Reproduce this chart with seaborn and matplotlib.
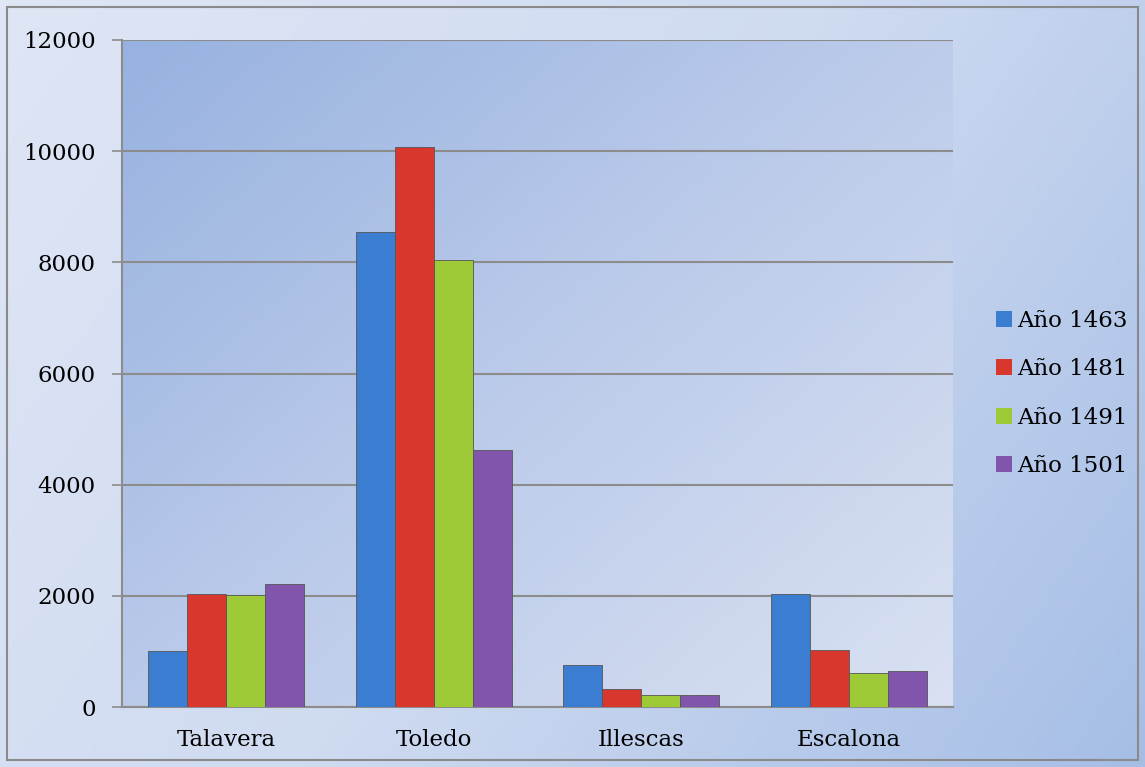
import numpy as np
import pandas as pd
import matplotlib
matplotlib.use("Agg")
import matplotlib.pyplot as plt
import seaborn as sns
from matplotlib.colors import LinearSegmentedColormap
from matplotlib.patches import Rectangle

categories = ["Talavera", "Toledo", "Illescas", "Escalona"]
series = ["Año 1463", "Año 1481", "Año 1491", "Año 1501"]
v1463 = [1000, 8550, 750, 2030]
v1481 = [2030, 10070, 320, 1030]
v1491 = [2010, 8050, 210, 610]
v1501 = [2220, 4630, 210, 640]
yticks = [0, 2000, 4000, 6000, 8000, 10000, 12000]

rows = []
for s, vals in zip(series, [v1463, v1481, v1491, v1501]):
    for c, v in zip(categories, vals):
        rows.append({"cat": c, "serie": s, "val": v})
df = pd.DataFrame(rows)

sns.set_theme(style="white")
plt.rcParams["font.family"] = ["DejaVu Serif"]
plt.rcParams["text.color"] = "black"

W, H = 1145, 767
fig = plt.figure(figsize=(W / 100, H / 100), dpi=100)

# figure background gradient
bg = fig.add_axes([0, 0, 1, 1], zorder=-10)
xx, yy = np.meshgrid(np.linspace(0, 1, 200), np.linspace(0, 1, 200))
g = (0.75 * xx + 0.35 * yy) / 1.1
cmap_fig = LinearSegmentedColormap.from_list("f", ["#dfe6f5", "#cfdbf1", "#a6bee6"])
bg.imshow(g, cmap=cmap_fig, extent=[0, 1, 0, 1], aspect="auto", origin="upper")
bg.set_axis_off()
bg.add_patch(Rectangle((7 / W, 7 / H), (W - 14) / W, (H - 14) / H, fill=False,
                       edgecolor="#8a8a8a", lw=1.5, transform=bg.transAxes))

ax = fig.add_axes([122 / W, (H - 707) / H, 831 / W, 667 / H], zorder=1)
palette = ["#3a7dd1", "#d8372d", "#9fca38", "#8255ad"]
sns.barplot(data=df, x="cat", y="val", hue="serie", palette=palette, width=0.75,
            saturation=1, edgecolor="#555555", linewidth=0.6, ax=ax, zorder=3,
            err_kws={"linewidth": 0})

# plot-area gradient
xx2, yy2 = np.meshgrid(np.linspace(0, 1, 200), np.linspace(0, 1, 200))
g2 = (0.6 * xx2 + 0.55 * yy2) / 1.15
cmap_ax = LinearSegmentedColormap.from_list("a", ["#97b2e0", "#bccbea", "#d9e1f2"])
ax.imshow(g2, cmap=cmap_ax, extent=[-0.5, 3.5, 0, 12000], aspect="auto",
          origin="upper", zorder=0)
ax.set_xlim(-0.5, 3.5)
ax.set_ylim(0, 12000)

ax.set_yticks(yticks)
ax.set_yticklabels([str(t) for t in yticks])
ax.yaxis.grid(True, color="#8c8c8c", lw=1.5, zorder=1)
ax.set_axisbelow(True)
ax.set_xlabel("")
ax.set_ylabel("")

ax.set_xticks(range(len(categories)))
ax.set_xticklabels(categories)
ax.set_xticks([-0.5, 0.5, 1.5, 2.5, 3.5], minor=True)
ax.tick_params(axis="x", which="major", length=0, pad=16, labelsize=16.5, labelcolor="black")
ax.tick_params(axis="x", which="minor", length=7, width=1.2, color="#8c8c8c", direction="out")
ax.tick_params(axis="y", length=7, width=1.2, color="#8c8c8c", direction="out", pad=12,
               labelsize=16.5, labelcolor="black", left=True)

for sp in ["top", "right"]:
    ax.spines[sp].set_visible(False)
for sp in ["left", "bottom"]:
    ax.spines[sp].set_color("#8c8c8c")
    ax.spines[sp].set_linewidth(1.5)

handles, labels = ax.get_legend_handles_labels()
leg = ax.legend(handles, labels, loc="center left", bbox_to_anchor=(1.027, 0.47),
                frameon=False, fontsize=16.5, handlelength=0.7, handleheight=0.7,
                handletextpad=0.2, labelspacing=1.15, labelcolor="black")
for h in leg.legend_handles:
    h.set_edgecolor("none")

fig.savefig("out.png", dpi=100)
